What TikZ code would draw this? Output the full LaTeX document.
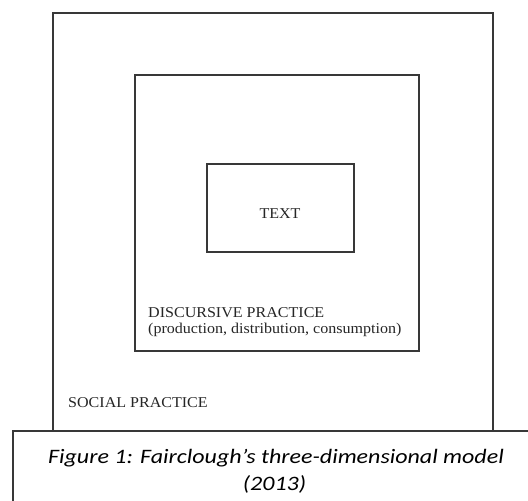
\documentclass[tikz,border=0pt]{standalone}
\usepackage{fontspec}
\setmainfont{Liberation Serif}
\newfontfamily\lblfont[FakeStretch=1.07]{Liberation Serif}
\newfontfamily\capfont[FakeStretch=1.17]{Carlito}
\begin{document}
\begin{tikzpicture}[x=1pt,y=-1pt,
  frame/.style={draw=black!78, line width=1.3pt},
  lbl/.style={inner sep=0pt, anchor=base west, font=\lblfont\fontsize{15}{17}\selectfont, text=black!85},
  captext/.style={inner sep=0pt, anchor=base, font=\capfont\itshape\fontsize{20.5}{24}\selectfont, text=black}]
\useasboundingbox (0,0) rectangle (528,501);
\fill[white] (0,0) rectangle (528,501);
\draw[frame] (53,13) coordinate (o1) rectangle (493,431) coordinate (o2);
\draw[frame] (135,75) coordinate (m1) rectangle (419,351) coordinate (m2);
\draw[frame] (207,164) coordinate (t1) rectangle (354,252) coordinate (t2);
\node[lbl, anchor=base] (text) at (280,218) {TEXT};
\node[lbl] (dp1) at (148,317) {DISCURSIVE PRACTICE};
\node[lbl] (dp2) at (148,333) {(production, distribution, consumption)};
\node[lbl] (sp) at (68,407) {SOCIAL PRACTICE};
\fill[white] (13,431) rectangle (528,501);
\draw[frame] (13,501) coordinate (c0) -- (13,431) coordinate (c1) -- (528,431) coordinate (c2);
\node[captext] (cap1) at (276,463) {Figure 1: Fairclough’s three-dimensional model};
\node[captext] (cap2) at (274.5,490) {(2013)};
\end{tikzpicture}
\end{document}
